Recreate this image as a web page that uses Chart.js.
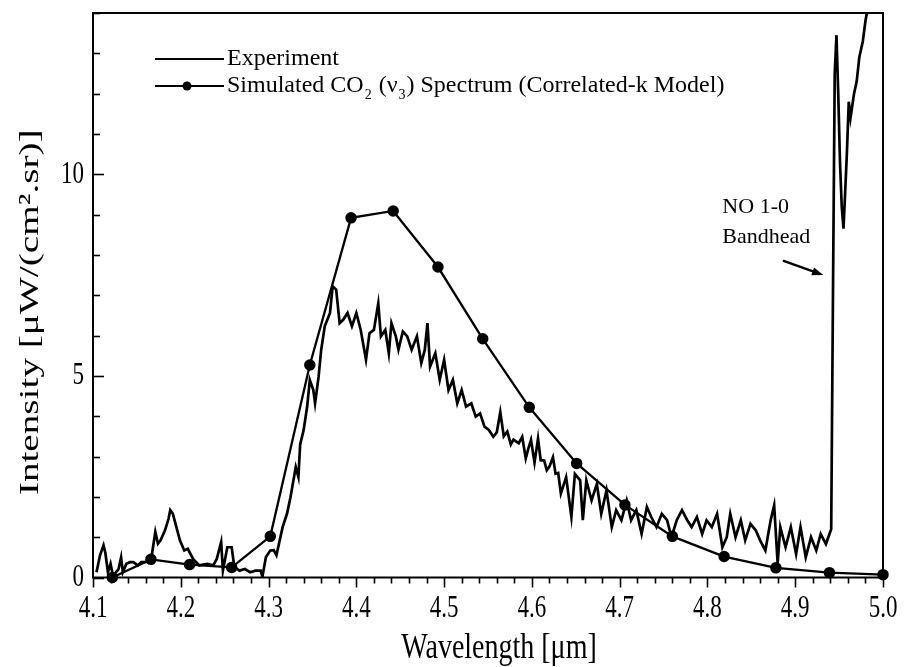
<!DOCTYPE html>
<html>
<head>
<meta charset="utf-8">
<script src="https://cdn.jsdelivr.net/npm/chart.js@4.4.1/dist/chart.umd.min.js"></script>
<style>
  html, body { margin: 0; padding: 0; background: #fff; }
  #wrap { width: 904px; height: 667px; }
</style>
</head>
<body>
<div id="wrap"><canvas id="spectrum"></canvas></div>
<script>
const expWavelength = [
  4.104, 4.108, 4.112, 4.114, 4.117, 4.120, 4.123, 4.126, 4.129, 4.132,
  4.134, 4.138, 4.142, 4.146, 4.151, 4.155, 4.159, 4.163, 4.167, 4.171,
  4.174, 4.177, 4.182, 4.186, 4.188, 4.191, 4.195, 4.199, 4.204, 4.208,
  4.214, 4.221, 4.230, 4.237, 4.241, 4.246, 4.248, 4.253, 4.258, 4.261,
  4.267, 4.273, 4.279, 4.285, 4.291, 4.293, 4.297, 4.302, 4.306, 4.309,
  4.316, 4.321, 4.325, 4.331, 4.334, 4.336, 4.340, 4.344, 4.347, 4.351,
  4.353, 4.357, 4.360, 4.364, 4.370, 4.373, 4.377, 4.381, 4.385, 4.390,
  4.395, 4.400, 4.405, 4.411, 4.415, 4.420, 4.425, 4.428, 4.433, 4.437,
  4.440, 4.445, 4.448, 4.453, 4.458, 4.463, 4.469, 4.474, 4.478, 4.481,
  4.484, 4.490, 4.495, 4.500, 4.505, 4.510, 4.515, 4.520, 4.525, 4.531,
  4.536, 4.541, 4.546, 4.551, 4.556, 4.560, 4.564, 4.568, 4.572, 4.576,
  4.579, 4.585, 4.589, 4.593, 4.596, 4.599, 4.603, 4.607, 4.610, 4.614,
  4.617, 4.620, 4.624, 4.627, 4.630, 4.633, 4.639, 4.645, 4.649, 4.655,
  4.658, 4.662, 4.668, 4.674, 4.679, 4.685, 4.691, 4.696, 4.702, 4.708,
  4.713, 4.719, 4.725, 4.731, 4.736, 4.742, 4.748, 4.754, 4.759, 4.765,
  4.771, 4.777, 4.782, 4.788, 4.794, 4.799, 4.805, 4.811, 4.817, 4.822,
  4.826, 4.832, 4.838, 4.843, 4.849, 4.855, 4.860, 4.866, 4.872, 4.876,
  4.880, 4.883, 4.889, 4.895, 4.901, 4.906, 4.912, 4.918, 4.924, 4.929,
  4.935, 4.939, 4.941, 4.943, 4.945, 4.947, 4.949, 4.951, 4.953, 4.955,
  4.957, 4.959, 4.961, 4.963, 4.965, 4.967, 4.970, 4.973, 4.977, 4.980,
  4.984
];
const expIntensity = [
  0.13, 0.55, 0.80, 0.62, 0.13, 0.34, 0.02, 0.13, 0.20, 0.50,
  0.13, 0.34, 0.38, 0.38, 0.30, 0.38, 0.38, 0.40, 0.55, 1.13,
  0.84, 0.92, 1.17, 1.45, 1.67, 1.58, 1.25, 0.92, 0.67, 0.71,
  0.46, 0.30, 0.34, 0.30, 0.46, 0.88, 0.17, 0.75, 0.75, 0.26,
  0.17, 0.21, 0.13, 0.17, 0.17, 0.02, 0.51, 0.67, 0.68, 0.55,
  1.25, 1.58, 1.99, 2.74, 2.49, 3.30, 3.66, 4.24, 4.90, 4.65,
  4.32, 4.98, 5.65, 6.23, 6.56, 7.22, 7.14, 6.31, 6.39, 6.56,
  6.23, 6.56, 6.14, 5.40, 6.06, 6.14, 6.80, 5.98, 6.14, 5.56,
  6.31, 5.98, 5.65, 6.10, 5.98, 5.65, 5.98, 5.32, 5.65, 6.31,
  5.23, 5.56, 4.90, 5.40, 4.65, 4.90, 4.32, 4.65, 4.24, 4.32,
  3.99, 4.07, 3.74, 3.66, 3.49, 3.60, 4.10, 3.50, 3.62, 3.30,
  3.42, 3.33, 3.49, 2.95, 3.20, 3.41, 2.85, 3.45, 2.91, 2.90,
  2.66, 2.75, 2.98, 2.57, 2.59, 2.08, 2.49, 1.50, 2.57, 2.41,
  1.42, 2.41, 1.91, 2.32, 1.58, 2.16, 1.25, 1.67, 1.42, 1.91,
  1.42, 1.67, 1.08, 1.75, 1.50, 1.25, 1.58, 1.42, 1.00, 1.42,
  1.67, 1.42, 1.25, 1.50, 1.08, 1.42, 1.25, 1.58, 0.75, 1.00,
  1.58, 1.00, 1.42, 0.92, 1.33, 1.17, 0.92, 0.67, 1.42, 1.79,
  0.35, 1.25, 0.75, 1.25, 0.58, 1.25, 0.50, 1.00, 0.67, 1.08,
  0.83, 1.08, 1.20, 7.00, 12.50, 13.45, 12.00, 10.30, 9.20, 8.65,
  9.60, 10.60, 11.80, 11.40, 11.70, 12.00, 12.30, 12.90, 13.30, 13.80,
  14.30
];

// correlated-k model points
const simWavelength = [
  4.122, 4.166, 4.210, 4.258, 4.302, 4.347, 4.394, 4.442, 4.493,
  4.544, 4.597, 4.651, 4.706, 4.760, 4.819, 4.878, 4.939, 5.000
];
const simIntensity = [
  0.00, 0.45, 0.32, 0.25, 1.02, 5.27, 8.92, 9.09, 7.70,
  5.92, 4.22, 2.83, 1.80, 1.02, 0.52, 0.24, 0.12, 0.07
];

const xTickLabels = ['4.1', '4.2', '4.3', '4.4', '4.5', '4.6', '4.7', '4.8', '4.9', '5.0'];
const yTickLabels = ['0', '5', '10'];
const seriesLabels = ['Experiment', 'Simulated CO\u2082 (\u03bd\u2083) Spectrum (Correlated-k Model)'];
const noteLines = ['NO 1-0', 'Bandhead'];
const xTitle = 'Wavelength [\u03bcm]';
const yTitle = 'Intensity [\u03bcW/(cm\u00b2.sr)]';

const SERIF = '"Liberation Serif", "DejaVu Serif", serif';
const INK = '#000';

// axis text in the scan is tall and narrow: normal width, stretched along the page's y
function tallText(ctx, text, x, y, size, stretch, align, rotated) {
  ctx.save();
  ctx.translate(x, y);
  if (rotated) {
    ctx.rotate(-Math.PI / 2);
    ctx.scale(stretch, 1);
  } else {
    ctx.scale(1, stretch);
  }
  ctx.font = size + 'px ' + SERIF;
  ctx.textAlign = align;
  ctx.textBaseline = 'middle';
  ctx.fillText(text, 0, 0);
  ctx.restore();
}

// draw a string, turning subscript digits into small lowered glyphs
function drawRich(ctx, text, x, y, size) {
  const subs = '\u2080\u2081\u2082\u2083\u2084\u2085\u2086\u2087\u2088\u2089';
  let run = '';
  const flush = () => {
    if (!run) return;
    ctx.font = size + 'px ' + SERIF;
    ctx.fillText(run, x, y);
    x += ctx.measureText(run).width;
    run = '';
  };
  for (const ch of text) {
    const i = subs.indexOf(ch);
    if (i >= 0) {
      flush();
      ctx.font = Math.round(size * 0.6) + 'px ' + SERIF;
      ctx.fillText(String(i), x + 1, y + size * 0.28);
      x += ctx.measureText(String(i)).width + 2;
    } else {
      run += ch;
    }
  }
  flush();
}

const framePlugin = {
  id: 'frame',
  beforeDatasetsDraw(chart) {
    const { ctx, chartArea: a, scales } = chart;
    ctx.save();
    ctx.strokeStyle = INK;
    ctx.lineWidth = 2;
    ctx.strokeRect(a.left, a.top, a.right - a.left, a.bottom - a.top);

    // y ticks point inward, every 1 unit, longer at labelled values
    ctx.lineWidth = 1.6;
    for (let v = 0; v <= scales.y.max + 1e-9; v += 1) {
      const py = Math.round(scales.y.getPixelForValue(v)) + 0.5;
      const len = v % 5 === 0 ? 11 : 7;
      ctx.beginPath();
      ctx.moveTo(a.left, py);
      ctx.lineTo(a.left + len, py);
      ctx.stroke();
    }
    // x ticks hang below the axis, every 0.02 um
    for (let i = 0; i <= 45; i++) {
      const v = scales.x.min + i * 0.02;
      const px = Math.round(scales.x.getPixelForValue(v)) + 0.5;
      const len = i % 5 === 0 ? 10 : 6;
      ctx.beginPath();
      ctx.moveTo(px, a.bottom);
      ctx.lineTo(px, a.bottom + len);
      ctx.stroke();
    }

    // tick labels and axis titles
    ctx.fillStyle = INK;
    xTickLabels.forEach(t => {
      tallText(ctx, t, scales.x.getPixelForValue(parseFloat(t)), a.bottom + 31, 23, 1.4, 'center', false);
    });
    yTickLabels.forEach(t => {
      tallText(ctx, t, a.left - 9, scales.y.getPixelForValue(parseFloat(t)), 23, 1.4, 'right', false);
    });
    tallText(ctx, xTitle, (a.left + a.right) / 2 + 11, a.bottom + 71, 28, 1.25, 'center', false);
    tallText(ctx, yTitle, 31, (a.top + a.bottom) / 2 + 17, 28, 1.4, 'center', true);
    ctx.restore();
  },
  afterDraw(chart) {
    const { ctx, chartArea: a, scales } = chart;
    ctx.save();
    ctx.fillStyle = INK;
    ctx.strokeStyle = INK;
    ctx.textBaseline = 'alphabetic';
    ctx.textAlign = 'left';

    // legend
    const rows = [{ y: a.top + 46, marker: false }, { y: a.top + 73, marker: true }];
    rows.forEach((r, i) => {
      ctx.lineWidth = 2.2;
      ctx.beginPath();
      ctx.moveTo(a.left + 62, r.y);
      ctx.lineTo(a.left + 131, r.y);
      ctx.stroke();
      if (r.marker) {
        ctx.beginPath();
        ctx.arc(a.left + 94, r.y, 4.5, 0, Math.PI * 2);
        ctx.fill();
      }
      drawRich(ctx, seriesLabels[i], a.left + 134, r.y + 6, 24);
    });

    // bandhead note and arrow
    const xs = scales.x, ys = scales.y;
    ctx.font = '22px ' + SERIF;
    ctx.fillText(noteLines[0], xs.getPixelForValue(4.817), ys.getPixelForValue(9.03));
    ctx.fillText(noteLines[1], xs.getPixelForValue(4.817), ys.getPixelForValue(8.29));
    const x0 = xs.getPixelForValue(4.886), y0 = ys.getPixelForValue(7.86);
    const x1 = xs.getPixelForValue(4.932), y1 = ys.getPixelForValue(7.5);
    const ang = Math.atan2(y1 - y0, x1 - x0);
    ctx.lineWidth = 2.4;
    ctx.beginPath();
    ctx.moveTo(x0, y0);
    ctx.lineTo(x1 - 8 * Math.cos(ang), y1 - 8 * Math.sin(ang));
    ctx.stroke();
    ctx.beginPath();
    ctx.moveTo(x1, y1);
    ctx.lineTo(x1 - 12 * Math.cos(ang - 0.35), y1 - 12 * Math.sin(ang - 0.35));
    ctx.lineTo(x1 - 12 * Math.cos(ang + 0.35), y1 - 12 * Math.sin(ang + 0.35));
    ctx.closePath();
    ctx.fill();
    ctx.restore();
  }
};

const ctx = document.getElementById('spectrum').getContext('2d');
new Chart(ctx, {
  type: 'line',
  data: {
    datasets: [
      {
        label: seriesLabels[0],
        data: expWavelength.map((x, i) => ({ x, y: expIntensity[i] })),
        borderColor: INK,
        borderWidth: 2.7,
        pointRadius: 0,
        tension: 0,
      },
      {
        label: seriesLabels[1],
        data: simWavelength.map((x, i) => ({ x, y: simIntensity[i] })),
        borderColor: INK,
        backgroundColor: INK,
        borderWidth: 2.3,
        pointRadius: 4.6,
        pointBackgroundColor: INK,
        tension: 0,
        clip: false,
      },
    ],
  },
  options: {
    responsive: true,
    maintainAspectRatio: false,
    animation: false,
    layout: { padding: { top: 13, right: 21, left: 0, bottom: 0 } },
    plugins: {
      legend: { display: false },
      tooltip: { enabled: false },
    },
    scales: {
      x: {
        type: 'linear',
        min: 4.1,
        max: 5.0,
        grid: { display: false, drawTicks: false },
        border: { display: false },
        ticks: { display: false },
        afterBuildTicks: (s) => { s.ticks = xTickLabels.map(t => ({ value: parseFloat(t) })); },
        afterFit: (s) => { s.height = 89.5; s.paddingLeft = 0; s.paddingRight = 0; },
      },
      y: {
        type: 'linear',
        min: 0,
        max: 14,
        grid: { display: false, drawTicks: false },
        border: { display: false },
        ticks: { display: false },
        afterBuildTicks: (s) => { s.ticks = yTickLabels.map(t => ({ value: parseFloat(t) })); },
        afterFit: (s) => { s.width = 93; s.paddingTop = 0; s.paddingBottom = 0; },
      },
    },
  },
  plugins: [framePlugin],
});
</script>
</body>
</html>
